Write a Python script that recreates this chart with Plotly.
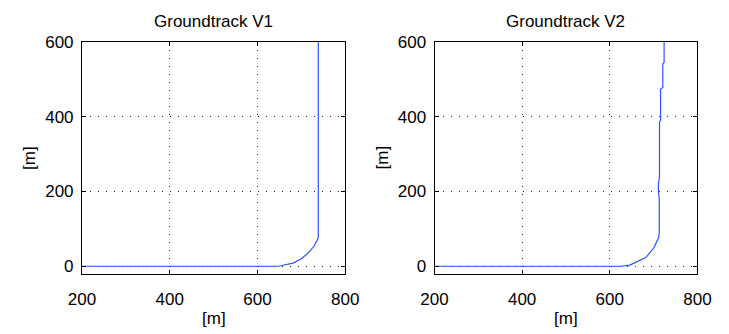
import plotly.graph_objects as go

# Groundtrack V1
v1_x = [200, 648, 663, 681, 700, 717, 729, 738.5, 738.5]
v1_y = [0, 0, 4, 8.5, 20, 37, 54, 76, 600]
# Groundtrack V2
v2_x = [200, 625, 646, 668, 683, 701, 712, 713, 713, 711, 711, 713.5, 713.5, 716, 716, 721, 721, 724, 724]
v2_y = [0, 0, 3, 15, 24, 50, 78, 90, 180, 200, 220, 240, 386, 390, 473, 478, 541, 545, 600]

titles = ["Groundtrack V1", "Groundtrack V2"]
x_ticks = [200, 400, 600, 800]
y_ticks = [0, 200, 400, 600]

FONT = "Liberation Sans, Arial, Helvetica, sans-serif"
line_color = "#2a52ff"
FS = 17

fig = go.Figure()
fig.add_trace(go.Scatter(x=v1_x, y=v1_y, mode="lines", line=dict(color=line_color, width=1.2),
                         xaxis="x", yaxis="y", showlegend=False))
fig.add_trace(go.Scatter(x=v2_x, y=v2_y, mode="lines", line=dict(color=line_color, width=1.2),
                         xaxis="x2", yaxis="y2", showlegend=False))

W, H = 729, 334
doms = [(70.7 / W, 344.5 / W), (437.3 / W, 710.7 / W)]
ydom = (1 - 274 / H, 1 - 34 / H)

ax_common = dict(showline=True, linecolor="black", linewidth=1, mirror="ticks",
                 ticks="inside", ticklen=4, tickcolor="black",
                 showgrid=True, gridcolor="#222222", griddash="1px,7px", gridwidth=1,
                 zeroline=False, tickfont=dict(family=FONT, size=FS, color="black"))

layout = dict(width=W, height=H, margin=dict(l=0, r=0, t=0, b=0),
              plot_bgcolor="white", paper_bgcolor="white", font=dict(family=FONT, color="black"))
for i, (d0, d1) in enumerate(doms):
    sx = "" if i == 0 else "2"
    layout["xaxis" + sx] = dict(ax_common, domain=[d0, d1], range=[200, 800], tickvals=x_ticks,
                                anchor="y" + sx, ticklabelstandoff=10)
    layout["yaxis" + sx] = dict(ax_common, domain=list(ydom), range=[-20.7, 600], tickvals=y_ticks,
                                anchor="x" + sx, ticklabelstandoff=4)

fig.update_layout(**layout)

ann = []
for i, (d0, d1) in enumerate(doms):
    cx = (d0 + d1) / 2
    ann.append(dict(text=titles[i], x=cx, y=1 - 13 / H, xref="paper", yref="paper",
                    showarrow=False, font=dict(family=FONT, size=FS, color="black"),
                    xanchor="center", yanchor="middle"))
    ann.append(dict(text="[m]", x=cx, y=1 - 320 / H, xref="paper", yref="paper",
                    showarrow=False, font=dict(family=FONT, size=FS, color="black"),
                    xanchor="center", yanchor="middle"))
    ann.append(dict(text="[m]", x=(d0 * W - 54) / W, y=(ydom[0] + ydom[1]) / 2, xref="paper", yref="paper",
                    showarrow=False, textangle=-90, font=dict(family=FONT, size=FS, color="black"),
                    xanchor="center", yanchor="middle"))
fig.update_layout(annotations=ann)

fig.write_html("out.html")
